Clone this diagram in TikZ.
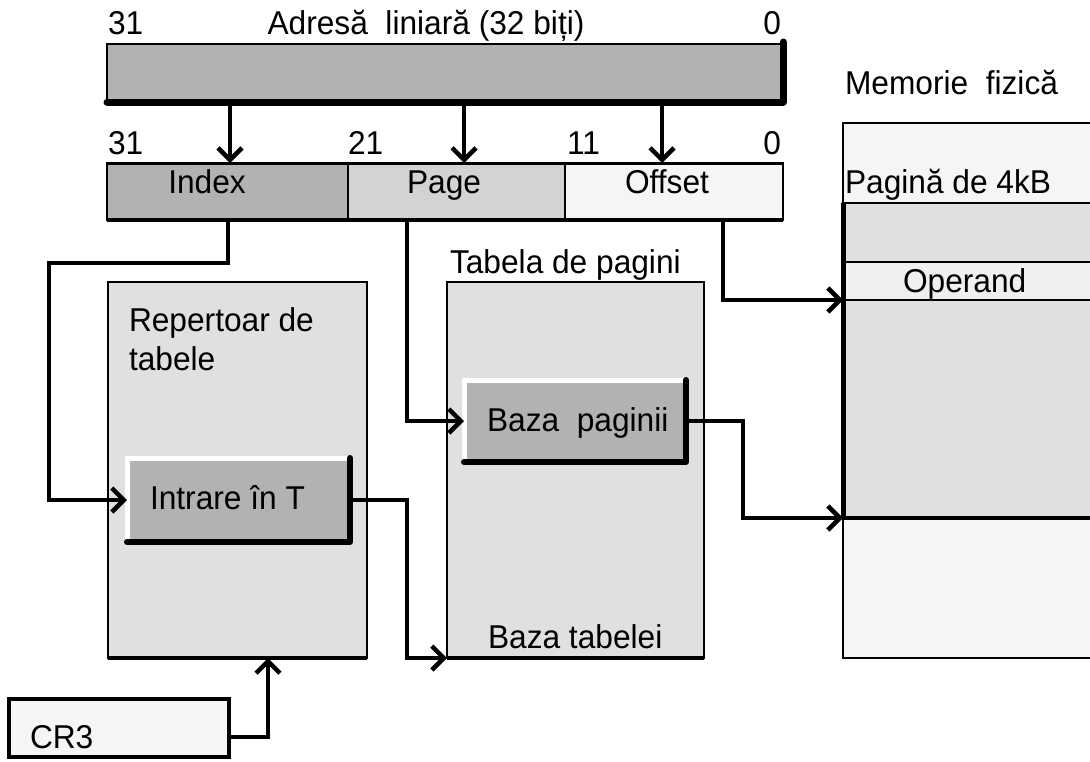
\documentclass[tikz,border=0pt]{standalone}
\usepackage{fontspec}
\setmainfont[FakeStretch=0.96]{Liberation Sans}
\usetikzlibrary{arrows.meta,calc}

\definecolor{darkg}{HTML}{B2B2B2}
\definecolor{midg}{HTML}{D3D3D3}
\definecolor{lightg}{HTML}{E0E0E0}
\definecolor{paleg}{HTML}{F5F5F5}
\definecolor{opg}{HTML}{F0F0F0}

\tikzset{
  txt/.style={font=\fontsize{33}{40}\selectfont, inner sep=0pt, outer sep=0pt, text=black},
  box/.style={draw=black, line width=2pt, inner sep=0pt, outer sep=0pt, anchor=north west},
  raised/.style={fill=darkg, inner sep=0pt, outer sep=0pt, anchor=north west},
  conn/.style={line width=4pt, line join=miter,
    -{Straight Barb[length=12pt,width=24pt,line width=4.5pt]}},
}

\begin{document}
\begin{tikzpicture}[x=1pt,y=-1pt]
\useasboundingbox (0,0) rectangle (1090,761);

% linear address register
\node[box, fill=darkg, minimum width=676pt, minimum height=58pt] (addr) at (107,44) {};
\draw[line width=7pt, line cap=round, line join=round]
  (addr.south west) -- (addr.south east) -- ($(addr.north east)+(0,-2)$);
\node[txt, anchor=base west] (a31) at (108,34) {31};
\node[txt, anchor=base] (atitle) at (426,34) {Adresă\ \ liniară (32 biți)};
\node[txt, anchor=base east] (a0) at (781,34) {0};

% split fields
\node[box, fill=darkg, minimum width=241pt, minimum height=57pt] (index) at (107,163) {};
\node[box, fill=midg, minimum width=217pt, minimum height=57pt] (pagef) at (348,163) {};
\node[box, fill=paleg, minimum width=218pt, minimum height=57pt] (offf) at (565,163) {};
\draw[line width=4pt] (index.south west) -- (offf.south east);
\draw[line width=3pt] (index.north west) -- (offf.north east);
\node[txt, anchor=base] (indexlbl) at (207,193) {Index};
\node[txt, anchor=base] (pagelbl) at (444,193) {Page};
\node[txt, anchor=base] (offlbl) at (667,193) {Offset};
\node[txt, anchor=base west] (b31) at (108,154) {31};
\node[txt, anchor=base west] (b21) at (348,154) {21};
\node[txt, anchor=base west] (b11) at (567,154) {11};
\node[txt, anchor=base east] (b0) at (781,154) {0};

% address bits routed to the fields
\draw[conn] (addr.south -| 230,0) -- (index.north -| 230,0);
\draw[conn] (addr.south -| 464,0) -- (pagef.north -| 464,0);
\draw[conn] (addr.south -| 662,0) -- (offf.north -| 662,0);

% page directory
\node[box, fill=lightg, minimum width=259pt, minimum height=376pt] (rep) at (108,282) {};
\draw[line width=4pt] (rep.south west) -- (rep.south east);
\node[txt, anchor=base west] (replbl1) at (129,331) {Repertoar de};
\node[txt, anchor=base west] (replbl2) at (129,370) {tabele};

% directory entry
\node[raised, minimum width=223pt, minimum height=84pt] (entry) at (127,458) {};
\draw[white, line width=5pt, line cap=round, line join=round]
  (entry.south west) -- (entry.north west) -- (entry.north east);
\draw[black, line width=6pt, line cap=round, line join=round]
  (entry.north east) -- (entry.south east) -- (entry.south west);
\node[txt, anchor=base west] (entrylbl) at (150,509) {Intrare în T};

% page table
\node[box, fill=lightg, minimum width=257pt, minimum height=376pt] (tab) at (447,282) {};
\draw[line width=4pt] (tab.south west) -- (tab.south east);
\node[txt, anchor=base west] (tablbl) at (450,273) {Tabela de pagini};
\node[txt, anchor=base west] (tabbase) at (488,648) {Baza tabelei};

% page table entry
\node[raised, minimum width=222pt, minimum height=82pt] (bp) at (464,380) {};
\draw[white, line width=5pt, line cap=round, line join=round]
  (bp.south west) -- (bp.north west) -- (bp.north east);
\draw[black, line width=6pt, line cap=round, line join=round]
  (bp.north east) -- (bp.south east) -- (bp.south west);
\node[txt, anchor=base west] (bplbl) at (487,431) {Baza\ \ paginii};

% physical memory
\node[txt, anchor=base west] (memlbl) at (845,94) {Memorie\ \ fizică};
\node[box, fill=paleg, minimum width=262pt, minimum height=535pt] (mem) at (843,123) {};
\node[box, fill=lightg, minimum width=262pt, minimum height=315pt] (page4k) at (843,203) {};
\node[box, fill=opg, minimum width=262pt, minimum height=38pt] (operand) at (843,262) {};
\draw[line width=5pt] (page4k.north west) -- (page4k.south west);
\draw[line width=3.5pt] (page4k.south west) -- (page4k.south east);
\node[txt, anchor=base west] (pglbl) at (845,193) {Pagină de 4kB};
\node[txt, anchor=base west] (oplbl) at (903,292) {Operand};

% CR3 register
\node[box, line width=4pt, fill=paleg, minimum width=220pt, minimum height=58pt] (cr3) at (9,699) {};
\node[txt, anchor=base west] (cr3lbl) at (30,748) {CR3};

% routing points
\coordinate (ileft) at (49,263);
\coordinate (edrop) at (407,658);
\coordinate (bdrop) at (743,518);
\coordinate (crup) at (268,658);

% connectors
\draw[conn] (index.south) |- (ileft) |- (entry.west);
\draw[conn] (pagef.south west -| 407,0) |- (bp.west);
\draw[conn] (offf.south west -| 723,0) |- (operand.south west);
\draw[conn] (entry.east) -| (edrop) -- (tab.south west);
\draw[conn] (bp.east) -| (bdrop) -- (page4k.south west);
\draw[conn] ([yshift=-9pt]cr3.east) -| (crup);
\end{tikzpicture}
\end{document}
